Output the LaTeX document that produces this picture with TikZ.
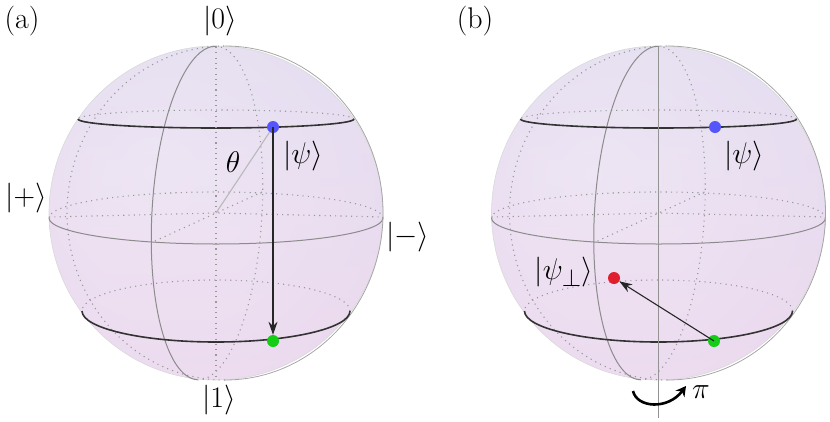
\documentclass[tikz,border=0pt]{standalone}
\usepackage{amsmath}
\usepackage{graphicx}
\usetikzlibrary{arrows.meta}

\definecolor{ballin}{RGB}{250,240,250}
\definecolor{ballmid}{RGB}{242,228,245}
\definecolor{ballout}{RGB}{220,212,234}
\definecolor{balltop}{RGB}{200,210,232}
\definecolor{ballbot}{RGB}{225,196,226}
\definecolor{qblue}{RGB}{85,85,250}
\definecolor{qgreen}{RGB}{20,205,20}
\definecolor{qred}{RGB}{225,30,45}
\pgfdeclareradialshading{blochball}{\pgfpoint{-10bp}{6bp}}{color(0bp)=(ballin); color(30bp)=(ballmid); color(50bp)=(ballout)}

\newcommand{\bigtxt}[1]{\scalebox{1.2}{#1}}

\tikzset{
  lbl/.style={font=\Huge, inner sep=0pt},
  backline/.style={gray!80, line width=1.1pt, dash pattern=on 1.1pt off 4.2pt},
  frontlat/.style={black!80, line width=1.6pt},
  frontgrid/.style={gray!90, line width=1pt},
  qubit/.style={circle, inner sep=0pt, minimum size=12pt},
  flip/.style={black!85, line width=1.1pt, -{Stealth[length=13pt,width=9pt]}},
}

\begin{document}
\begin{tikzpicture}[x=1pt, y=-1pt]
\useasboundingbox (0,0) rectangle (830,421);

% the two spheres
\foreach \cx in {216,658.5} {
  \begin{scope}[shift={(\cx,213)}]
    \shade[shading=blochball] (0,0) circle[radius=167];
    \shade[top color=balltop, middle color=white, bottom color=ballbot, opacity=0.3] (0,0) circle[radius=167];
    \draw[gray!30, line width=0.6pt] (0,0) circle[radius=167];
    % back halves
    \draw[backline] (167,5) arc[start angle=0, end angle=-180, x radius=167, y radius=26];
    \draw[backline] (138,-94) arc[start angle=0, end angle=-180, x radius=138, y radius=9];
    \draw[backline] (134,98) arc[start angle=0, end angle=-180, x radius=134, y radius=31];
    \begin{scope}[shift={(-9,0)}, rotate=-3.3]
      \draw[backline] (0,167) arc[start angle=90, end angle=-90, x radius=55, y radius=167];
    \end{scope}
    \begin{scope}[shift={(9,0)}]
      \draw[backline] (0,167) arc[start angle=90, end angle=270, x radius=158, y radius=167];
    \end{scope}
    % axes
    \draw[backline] (-167,4) -- (0,0) -- (167,4);
    \draw[backline] (-61,28) -- (46,-21);
    % front halves
    \draw[frontgrid] (167,5) arc[start angle=0, end angle=180, x radius=167, y radius=26];
    \begin{scope}[shift={(-9,0)}, rotate=-3.3]
      \draw[frontgrid] (0,167) arc[start angle=90, end angle=270, x radius=55, y radius=167];
    \end{scope}
    \begin{scope}[shift={(9,0)}]
      \draw[gray!70, line width=0.8pt] (0,-167) arc[start angle=-90, end angle=90, x radius=158, y radius=167];
    \end{scope}
    \draw[frontlat] (138,-94) arc[start angle=0, end angle=180, x radius=138, y radius=9];
    \draw[frontlat] (134,98) arc[start angle=0, end angle=180, x radius=134, y radius=31];
  \end{scope}
}

% (a)
\coordinate (oA) at (216,213);
\draw[backline] (216,47) -- (216,380);
\node[qubit, fill=qblue] (psiA) at (273,127) {};
\node[qubit, fill=qgreen] (oneA) at (273,341) {};
\draw[gray!55, line width=1.1pt] (oA) -- (psiA);
\draw[flip] (psiA.center) -- (oneA);

\node[lbl] (labA) at (22,21) {\bigtxt{(a)}};
\node[lbl] (ket0) at (220,21) {\bigtxt{$|0\rangle$}};
\node[lbl] (ket1) at (219,400) {\bigtxt{$|1\rangle$}};
\node[lbl] (ketP) at (26,198) {\bigtxt{$|{+}\rangle$}};
\node[lbl] (ketM) at (408,237) {\bigtxt{$|{-}\rangle$}};
\node[lbl] (theta) at (233,162) {\bigtxt{$\theta$}};
\node[lbl] (psiTxtA) at (303,156) {\bigtxt{$|\psi\rangle$}};

% (b)
\draw[gray!85, line width=1pt] (658.5,46) -- (658.5,418);
\node[qubit, fill=qblue] (psiB) at (715,127) {};
\node[qubit, fill=qgreen] (oneB) at (714,341) {};
\node[qubit, fill=qred] (perpB) at (614,278) {};
\draw[flip] (oneB.center) -- (perpB);

\coordinate (rotL) at (633,391);
\coordinate (rotR) at (686,386);
\draw[line width=2.6pt, -{Stealth[length=10pt,width=11pt]}] (rotL) .. controls (637,408) and (668,410) .. (rotR);

\node[lbl] (labB) at (475,21) {\bigtxt{(b)}};
\node[lbl] (psiTxtB) at (744,156) {\bigtxt{$|\psi\rangle$}};
\node[lbl] (perpTxt) at (564,272) {\bigtxt{$|\psi_\perp\rangle$}};
\node[lbl] (piTxt) at (701,392) {\bigtxt{$\pi$}};
\end{tikzpicture}
\end{document}
